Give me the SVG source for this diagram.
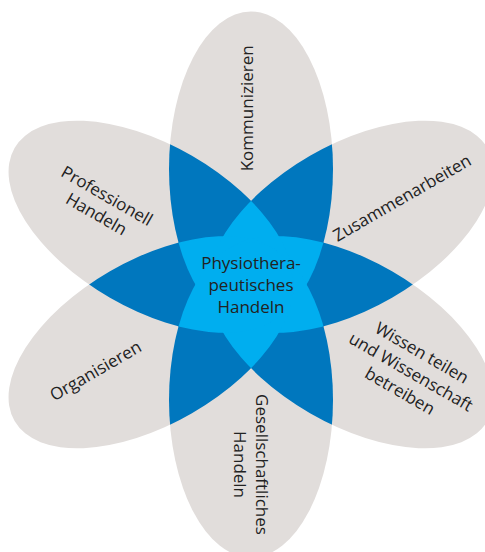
<svg xmlns="http://www.w3.org/2000/svg" width="485" height="552" viewBox="0 0 485 552">
<style>
.petal{fill:#e1dddb}
.dark{fill:#0077be}
.light{fill:#00aeef}
.lbl{font-family:"Open Sans","Noto Sans","DejaVu Sans",sans-serif;font-size:17px;fill:#222222;text-anchor:middle}
</style>
<defs>
<ellipse id="pe" cx="251" cy="169" rx="82" ry="157.5"/>
<clipPath id="c0"><use href="#pe"/></clipPath>
<clipPath id="c1"><use href="#pe" transform="rotate(60 251 284.5)"/></clipPath>
<clipPath id="c2"><use href="#pe" transform="rotate(120 251 284.5)"/></clipPath>
<clipPath id="c3"><use href="#pe" transform="rotate(180 251 284.5)"/></clipPath>
<clipPath id="c4"><use href="#pe" transform="rotate(240 251 284.5)"/></clipPath>
<clipPath id="c5"><use href="#pe" transform="rotate(300 251 284.5)"/></clipPath>
<use id="u1" href="#pe" transform="rotate(60 251 284.5)"/>
<use id="u2" href="#pe" transform="rotate(120 251 284.5)"/>
<use id="u3" href="#pe" transform="rotate(180 251 284.5)"/>
<use id="u4" href="#pe" transform="rotate(240 251 284.5)"/>
<use id="u5" href="#pe" transform="rotate(300 251 284.5)"/>
</defs>
<rect width="485" height="552" fill="#ffffff"/>

<g id="node-kommunizieren">
<use href="#pe" class="petal"/>
<text class="lbl" transform="translate(253,108.3) rotate(-90)">Kommunizieren</text>
</g>
<g id="node-zusammenarbeiten">
<use href="#u1" class="petal"/>
<text class="lbl" transform="translate(405,203) rotate(-30)">Zusammenarbeiten</text>
</g>
<g id="node-wissen">
<use href="#u2" class="petal"/>
<text class="lbl" transform="translate(408,377) rotate(30)"><tspan x="0" y="-22">Wissen teilen</tspan><tspan x="0" y="0">und Wissenschaft</tspan><tspan x="0" y="22">betreiben</tspan></text>
</g>
<g id="node-gesellschaftlich">
<use href="#u3" class="petal"/>
<text class="lbl" transform="translate(256,464.5) rotate(90)"><tspan x="0" y="0">Gesellschaftliches</tspan><tspan x="0" y="22">Handeln</tspan></text>
</g>
<g id="node-organisieren">
<use href="#u4" class="petal"/>
<text class="lbl" transform="translate(98.5,376) rotate(-30)">Organisieren</text>
</g>
<g id="node-professionell">
<use href="#u5" class="petal"/>
<text class="lbl" transform="translate(104,201) rotate(30)"><tspan x="0" y="0">Professionell</tspan><tspan x="0" y="21">Handeln</tspan></text>
</g>

<g id="overlaps">
<g class="dark">
<g clip-path="url(#c0)"><use href="#u1"/><use href="#u2"/><use href="#u3"/><use href="#u4"/><use href="#u5"/></g>
<g clip-path="url(#c1)"><use href="#u2"/><use href="#u3"/><use href="#u4"/><use href="#u5"/></g>
<g clip-path="url(#c2)"><use href="#u3"/><use href="#u4"/><use href="#u5"/></g>
<g clip-path="url(#c3)"><use href="#u4"/><use href="#u5"/></g>
<g clip-path="url(#c4)"><use href="#u5"/></g>
</g>
<g class="light">
<g clip-path="url(#c0)">
<g clip-path="url(#c1)"><use href="#u2"/><use href="#u3"/><use href="#u4"/><use href="#u5"/></g>
<g clip-path="url(#c2)"><use href="#u3"/><use href="#u4"/><use href="#u5"/></g>
<g clip-path="url(#c3)"><use href="#u4"/><use href="#u5"/></g>
<g clip-path="url(#c4)"><use href="#u5"/></g>
</g>
<g clip-path="url(#c1)">
<g clip-path="url(#c2)"><use href="#u3"/><use href="#u4"/><use href="#u5"/></g>
<g clip-path="url(#c3)"><use href="#u4"/><use href="#u5"/></g>
<g clip-path="url(#c4)"><use href="#u5"/></g>
</g>
<g clip-path="url(#c2)">
<g clip-path="url(#c3)"><use href="#u4"/><use href="#u5"/></g>
<g clip-path="url(#c4)"><use href="#u5"/></g>
</g>
<g clip-path="url(#c3)">
<g clip-path="url(#c4)"><use href="#u5"/></g>
</g>
</g>
</g>

<g id="node-center">
<text class="lbl"><tspan x="251" y="268.5">Physiothera-</tspan><tspan x="251" y="290.5">peutisches</tspan><tspan x="251" y="312.5">Handeln</tspan></text>
</g>
</svg>
